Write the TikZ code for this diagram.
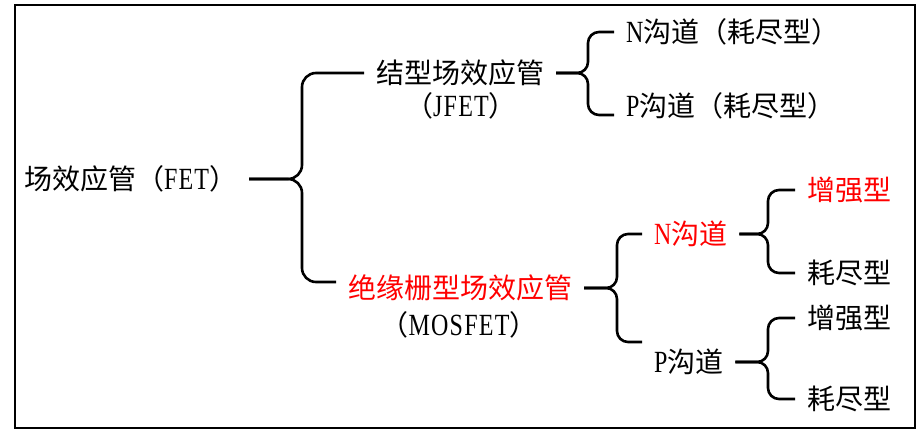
\documentclass[tikz,border=0pt]{standalone}
\usepackage{fontspec}
\setmainfont{Noto Sans CJK SC}
\newfontfamily\lat{Liberation Serif}[FakeStretch=0.78, Scale=1.1, LetterSpace=4]
\begin{document}
\begin{tikzpicture}[x=1pt, y=-1pt,
    lbl/.style={inner sep=0pt, outer xsep=12pt, font=\fontsize{28}{32}\selectfont},
    hl/.style={lbl, text=red},
    brace/.style={line width=2.6pt, rounded corners=11pt}]
          \useasboundingbox (0,0) rectangle (923,438);
          \draw[line width=1.2pt] (15,5) rectangle (915,428);

          \node[lbl, anchor=west] (fet) at (12,179) {场效应管（{\lat FET}）};

          \node[lbl] (jfet) at (460,73) {结型场效应管};
          \node[lbl] (jfetabbr) at (461,106) {（{\lat JFET}）};
          \node[lbl, anchor=west] (nj) at (614,32) {{\lat N}沟道（耗尽型）};
          \node[lbl, anchor=west] (pj) at (614,106) {{\lat P}沟道（耗尽型）};

          \node[hl] (mos) at (460,288) {绝缘栅型场效应管};
          \node[lbl] (mosabbr) at (459,325) {（{\lat MOSFET}）};
          \node[hl, anchor=west] (nm) at (642,234) {{\lat N}沟道};
          \node[lbl, anchor=west] (pm) at (642,362) {{\lat P}沟道};

          \node[hl, anchor=west] (ne) at (795,190) {增强型};
          \node[lbl, anchor=west] (nd) at (795,273) {耗尽型};
          \node[lbl, anchor=west] (pe) at (795,318) {增强型};
          \node[lbl, anchor=west] (pd) at (795,399) {耗尽型};

          \coordinate (b1) at (302,0);
          \coordinate (b2) at (588,0);
          \coordinate (b3) at (617,0);
          \coordinate (b4) at (768,0);

          \draw[brace, rounded corners=14pt] (fet.east) -- (fet.east -| b1) |- (jfet.west);
          \draw[brace, rounded corners=14pt] (fet.east) -- (fet.east -| b1) |- ([yshift=6pt]mos.west);

          \draw[brace] (jfet.east) -- (jfet.east -| b2) |- (nj.west);
          \draw[brace] (jfet.east) -- (jfet.east -| b2) |- ([yshift=-9pt]pj.west);

          \draw[brace] (mos.east) -- (mos.east -| b3) |- (nm.west);
          \draw[brace] (mos.east) -- (mos.east -| b3) |- ([yshift=20pt]pm.west);

          \draw[brace] (nm.east) -- (nm.east -| b4) |- (ne.west);
          \draw[brace] (nm.east) -- (nm.east -| b4) |- (nd.west);

          \draw[brace] (pm.east) -- (pm.east -| b4) |- (pe.west);
          \draw[brace] (pm.east) -- (pm.east -| b4) |- (pd.west);
        \end{tikzpicture}
\end{document}
